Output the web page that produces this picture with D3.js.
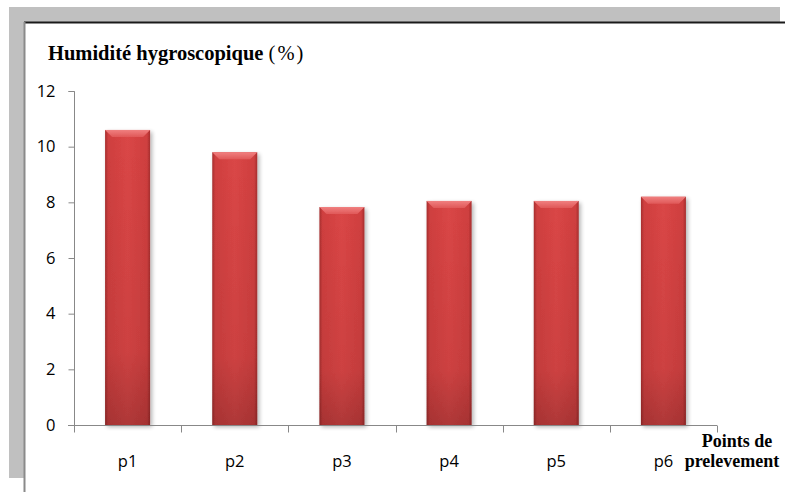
<!DOCTYPE html>
<html>
<head>
<meta charset="utf-8">
<script src="https://cdn.jsdelivr.net/npm/d3@7"></script>
<style>
  body { margin: 0; background: #fff; }
  svg { display: block; }
</style>
</head>
<body>
<div id="chart"></div>
<script>
var width = 785, height = 492;

var categories = ["p1", "p2", "p3", "p4", "p5", "p6"];
var values = [10.6, 9.8, 7.83, 8.05, 8.05, 8.2];
var yTicks = [0, 2, 4, 6, 8, 10, 12];

var sansFont = "'Open Sans', 'Liberation Sans', sans-serif";
var serifFont = "'Liberation Serif', 'Times New Roman', serif";

var svg = d3.select("#chart").append("svg")
  .attr("width", width).attr("height", height);

var defs = svg.append("defs");

// horizontal shading across the bar
var hg = defs.append("linearGradient").attr("id", "barH")
  .attr("x1", "0%").attr("x2", "100%").attr("y1", "0%").attr("y2", "0%");
hg.append("stop").attr("offset", "0%").attr("stop-color", "#a62e2e");
hg.append("stop").attr("offset", "7%").attr("stop-color", "#cf3f3f");
hg.append("stop").attr("offset", "50%").attr("stop-color", "#da4646");
hg.append("stop").attr("offset", "93%").attr("stop-color", "#cf3f3f");
hg.append("stop").attr("offset", "100%").attr("stop-color", "#a62e2e");

// darker towards the bottom
var vg = defs.append("linearGradient").attr("id", "barV")
  .attr("x1", "0%").attr("x2", "0%").attr("y1", "0%").attr("y2", "100%");
vg.append("stop").attr("offset", "0%").attr("stop-color", "#000").attr("stop-opacity", 0);
vg.append("stop").attr("offset", "75%").attr("stop-color", "#000").attr("stop-opacity", 0.06);
vg.append("stop").attr("offset", "100%").attr("stop-color", "#000").attr("stop-opacity", 0.2);

// top bevel highlight
var bg = defs.append("linearGradient").attr("id", "bevel")
  .attr("x1", "0%").attr("x2", "0%").attr("y1", "0%").attr("y2", "100%");
bg.append("stop").attr("offset", "0%").attr("stop-color", "#f08080");
bg.append("stop").attr("offset", "100%").attr("stop-color", "#e05858");

var shadow = defs.append("filter").attr("id", "shadow")
  .attr("x", "-20%").attr("y", "-5%").attr("width", "150%").attr("height", "115%");
shadow.append("feGaussianBlur").attr("in", "SourceAlpha").attr("stdDeviation", 2);
shadow.append("feOffset").attr("dx", 2).attr("dy", 2).attr("result", "b");
shadow.append("feComponentTransfer").append("feFuncA").attr("type", "linear").attr("slope", 0.3);
var merge = shadow.append("feMerge");
merge.append("feMergeNode");
merge.append("feMergeNode").attr("in", "SourceGraphic");

// frame: gray bands and dark borders
svg.append("rect").attr("x", 9).attr("y", 7).attr("width", 771).attr("height", 15).attr("fill", "#c0c0c0");
svg.append("rect").attr("x", 9).attr("y", 7).attr("width", 15).attr("height", 471).attr("fill", "#c0c0c0");
svg.append("line").attr("x1", 24).attr("x2", 785).attr("y1", 22.5).attr("y2", 22.5)
  .attr("stroke", "#1a1a1a").attr("stroke-width", 2);
svg.append("line").attr("x1", 24.5).attr("x2", 24.5).attr("y1", 22).attr("y2", 492)
  .attr("stroke", "#8a8a8a").attr("stroke-width", 2);

var x = d3.scaleBand().domain(categories).range([74, 717]).paddingInner(0.58).paddingOuter(0.29);
var xCat = d3.scaleBand().domain(categories).range([74, 717]);
var y = d3.scaleLinear().domain([0, 12]).range([425, 91]);

// y axis
var yAxis = svg.append("g").attr("transform", "translate(74.5,0)")
  .call(d3.axisLeft(y).tickValues(yTicks).tickSize(6).tickPadding(13));
yAxis.select(".domain").attr("stroke", "#888").attr("d", "M-6," + (y(12) + 0.5) + "H0V" + (y(0)));
yAxis.selectAll(".tick line").attr("stroke", "#888");
yAxis.selectAll(".tick text")
  .attr("font-family", sansFont)
  .attr("font-size", 16.5).attr("fill", "#000");

// bars
var bars = svg.append("g").selectAll("g").data(values).enter().append("g")
  .attr("filter", "url(#shadow)");
bars.append("rect")
  .attr("x", function(d, i) { return x(categories[i]); })
  .attr("y", function(d) { return y(d); })
  .attr("width", x.bandwidth())
  .attr("height", function(d) { return y(0) - y(d); })
  .attr("fill", "url(#barH)");
bars.append("rect")
  .attr("x", function(d, i) { return x(categories[i]); })
  .attr("y", function(d) { return y(d); })
  .attr("width", x.bandwidth())
  .attr("height", function(d) { return y(0) - y(d); })
  .attr("fill", "url(#barV)");
bars.append("path")
  .attr("d", function(d, i) {
    var x0 = x(categories[i]), x1 = x0 + x.bandwidth(), t = y(d), b = 7;
    return "M" + x0 + "," + t + "H" + x1 + "L" + (x1 - b) + "," + (t + b) + "H" + (x0 + b) + "Z";
  })
  .attr("fill", "url(#bevel)");

// x axis
var xAxis = svg.append("g").attr("transform", "translate(0," + (y(0) + 0.5) + ")")
  .call(d3.axisBottom(xCat).tickSize(0).tickPadding(30));
xAxis.select(".domain").attr("stroke", "#888").attr("d", "M68,0H717");
xAxis.selectAll(".tick text")
  .attr("font-family", sansFont)
  .attr("font-size", 16.5).attr("fill", "#000");
xAxis.selectAll(".boundary").data(d3.range(categories.length + 1)).enter().append("line")
  .attr("x1", function(i) { return Math.round(74 + i * xCat.step()) + 0.5; })
  .attr("x2", function(i) { return Math.round(74 + i * xCat.step()) + 0.5; })
  .attr("y1", 0).attr("y2", 7)
  .attr("stroke", "#888");

// titles
var title = svg.append("text").attr("x", 48).attr("y", 60)
  .attr("font-family", serifFont)
  .attr("font-size", 20.5).attr("fill", "#000");
title.append("tspan").attr("font-weight", "bold").text("Humidité hygroscopique ");
title.append("tspan").attr("letter-spacing", 2).text("(%)");

var xTitle = svg.append("text")
  .attr("font-family", serifFont)
  .attr("font-size", 18).attr("font-weight", "bold").attr("fill", "#000")
  .attr("text-anchor", "middle");
xTitle.append("tspan").attr("x", 737).attr("y", 447).text("Points de");
xTitle.append("tspan").attr("x", 732).attr("y", 467).text("prelevement");
</script>
</body>
</html>
